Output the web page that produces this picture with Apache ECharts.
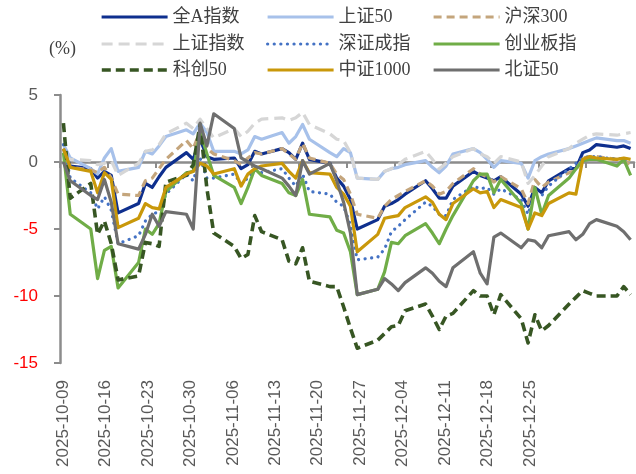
<!DOCTYPE html>
<html>
<head>
<meta charset="utf-8">
<script src="https://cdn.jsdelivr.net/npm/echarts@6/dist/echarts.min.js"></script>
<style>
html,body{margin:0;padding:0;background:#fff;}
#chart{width:636px;height:474px;}
</style>
</head>
<body>
<div id="chart"></div>
<script>
// ---- data ----
const tradeDates = [
'2025-10-09','2025-10-10','2025-10-13','2025-10-14','2025-10-15','2025-10-16','2025-10-17',
'2025-10-20','2025-10-21','2025-10-22','2025-10-23','2025-10-24',
'2025-10-27','2025-10-28','2025-10-29','2025-10-30','2025-10-31',
'2025-11-03','2025-11-04','2025-11-05','2025-11-06','2025-11-07',
'2025-11-10','2025-11-11','2025-11-12','2025-11-13','2025-11-14',
'2025-11-17','2025-11-18','2025-11-19','2025-11-20','2025-11-21',
'2025-11-24','2025-11-25','2025-11-26','2025-11-27','2025-11-28',
'2025-12-01','2025-12-02','2025-12-03','2025-12-04','2025-12-05',
'2025-12-08','2025-12-09','2025-12-10','2025-12-11','2025-12-12',
'2025-12-15','2025-12-16','2025-12-17','2025-12-18','2025-12-19',
'2025-12-22','2025-12-23','2025-12-24','2025-12-25','2025-12-26',
'2025-12-29','2025-12-30','2025-12-31'];

const labelDates = ['2025-10-09','2025-10-16','2025-10-23','2025-10-30','2025-11-06','2025-11-13',
'2025-11-20','2025-11-27','2025-12-04','2025-12-11','2025-12-18','2025-12-25'];

const yTicks = {min:-15, max:5, step:5};

const seriesNames = ['全A指数','上证50','沪深300','上证指数','深证成指','创业板指','科创50','中证1000','北证50'];

const quanA = [1.0,-0.3,-0.5,-1.2,-0.7,-1.0,-3.8, -3.1,-1.6,-1.9,-1.1,-0.4, 0.7,0.2,1.7,0.4,0.2,
 0.3,-0.5,-0.2,0.8,0.6, 1.0,0.7,0.2,1.4,0.2, -0.1,-1.2,-1.8,-2.8,-5.0, -4.3,-3.3,-3.1,-2.8,-2.4,
 -1.4,-2.0,-2.7,-2.7,-1.8, -0.7,-1.0,-1.2,-1.4,-1.1, -2.4,-3.3,-1.9,-2.3,-1.4, -0.5,-0.5,0.7,0.9,1.3, 1.1,1.2,1.0];
const sz50 = [1.3,0.3,-0.5,-0.9,0.3,1.0,-0.7, -0.4,0.8,0.6,1.2,1.9, 2.4,2.1,2.9,2.2,0.8,
 0.8,0.6,0.9,1.9,1.7, 2.2,1.4,1.9,2.8,1.7, 0.7,0.4,1.0,0.7,-1.2, -1.3,-0.7,-0.5,-0.4,-0.2,
 0.1,-0.4,-0.8,-0.3,0.6, 1.0,0.7,0.2,-0.4,0.1, -0.1,-1.2,0.1,0.4,0.6, 1.0,1.2,1.4,1.6,1.8, 1.6,1.6,1.4];
const hs300 = [1.0,-0.4,-0.6,-0.8,-0.4,-1.2,-2.4, -2.5,-1.4,-1.2,-0.5,0.2, 1.6,1.0,2.3,1.0,0.6,
 0.1,-0.2,0.3,0.7,0.6, 1.0,0.6,0.2,1.4,0.3, -0.1,-0.9,-1.3,-2.4,-3.9, -4.2,-3.3,-2.8,-2.5,-2.2,
 -1.4,-1.8,-2.4,-2.2,-1.6, -0.5,-0.9,-1.1,-1.5,-1.1, -2.0,-3.1,-1.3,-1.9,-1.5, -0.8,-0.6,0.3,0.4,0.4, 0.2,0.1,-0.2];
const shIndex = [0.4,0.2,0.1,-0.2,-0.1,0.1,-1.0, -0.1,0.8,0.9,1.3,2.1, 2.9,2.5,3.2,2.5,1.8,
 2.5,1.9,2.3,2.9,3.2, 3.3,3.1,3.3,3.7,2.8, 2.1,1.7,1.6,0.7,-1.2, -1.3,-0.7,-0.5,-0.2,0.2,
 0.8,0.2,-0.5,-0.1,0.4, 1.0,0.6,0.4,-0.1,0.4, 0.0,-1.6,-1.0,-0.3,0.4, 1.0,1.4,1.7,2.0,2.1, 2.0,2.1,2.2];
const szIndex = [1.3,-1.2,-2.3,-3.5,-2.6,-3.6,-6.1, -5.5,-4.4,-3.9,-3.7,-2.4, -0.9,-1.4,0.3,-1.2,-1.2,
 -0.9,-1.6,-1.2,-0.6,-0.8, -0.5,-1.2,-1.8,-0.9,-2.2, -2.4,-3.0,-3.3,-4.7,-7.3, -7.1,-6.5,-5.2,-4.8,-4.3,
 -3.0,-3.3,-3.9,-4.0,-2.8, -1.8,-2.0,-1.9,-2.4,-2.0, -2.8,-3.9,-2.3,-2.5,-1.8, -0.5,-0.1,0.3,0.4,0.4, 0.2,0.3,0.1];
const cyb = [0.7,-3.9,-5.0,-8.7,-6.6,-6.3,-9.4, -7.5,-5.0,-5.4,-4.6,-2.2, -0.8,-0.7,2.3,0.6,-1.0,
 -1.9,-3.1,-1.9,-0.5,-1.0, -1.6,-2.3,-2.5,-1.3,-3.9, -4.1,-5.1,-5.3,-6.7,-9.9, -9.5,-8.2,-6.0,-6.1,-5.5,
 -4.6,-5.3,-6.1,-5.0,-4.0, -1.4,-0.9,-0.9,-2.3,-1.3, -3.1,-5.0,-1.9,-3.9,-2.5, -1.2,-0.5,0.1,0.2,0.2, -0.3,0.2,-1.0];
const kc50 = [2.9,-2.7,-1.6,-5.4,-4.4,-6.1,-8.8, -8.5,-6.0,-6.1,-6.3,-1.5, -1.0,-0.2,2.8,-2.0,-5.3,
 -6.3,-7.2,-6.9,-4.0,-5.2, -5.8,-7.4,-7.6,-6.4,-8.9, -9.3,-9.3,-10.8,-12.4,-13.9, -13.3,-12.8,-12.3,-12.2,-11.1,
 -10.6,-11.5,-12.5,-11.5,-11.3, -9.6,-10.0,-10.0,-11.4,-9.9, -11.7,-13.5,-11.4,-12.6,-12.2, -10.6,-10.1,-9.6,-9.8,-10.0, -10.0,-9.3,-9.9];
const zz1000 = [1.0,-0.4,-0.7,-2.3,-0.8,-1.3,-4.9, -4.2,-3.1,-3.4,-3.5,-1.9, -0.9,-0.7,-0.1,-0.3,-0.9,
 -0.5,-1.8,-0.9,-0.5,-0.3, -0.1,-0.7,-1.2,0.1,-0.8, -0.9,-1.9,-2.4,-3.3,-6.7, -5.4,-4.2,-4.1,-4.0,-3.4,
 -2.6,-3.0,-3.9,-4.3,-3.1, -2.0,-2.3,-2.2,-3.4,-2.8, -3.4,-5.0,-3.8,-4.0,-3.1, -2.3,-2.4,0.2,0.4,0.3, 0.2,0.3,0.2];
const bz50 = [0.0,-1.4,-2.5,-2.8,-1.3,-3.0,-6.1, -6.5,-5.4,-3.9,-4.8,-3.7, -3.9,-5.0,2.9,1.2,3.6,
 2.5,0.3,0.0,-0.3,-0.5, -1.2,-1.8,-2.5,0.1,-0.9, -0.1,-1.4,-3.0,-5.3,-9.9, -9.5,-8.7,-9.1,-9.6,-9.0,
 -7.9,-8.3,-8.9,-9.3,-7.9, -6.7,-8.3,-9.1,-5.6,-5.3, -6.4,-5.8,-5.9,-6.4,-5.5, -5.2,-5.8,-5.4,-4.6,-4.3, -4.8,-5.2,-5.8];

const seriesValues = [quanA, sz50, hs300, shIndex, szIndex, cyb, kc50, zz1000, bz50];

// ---- calendar-day categories (axis spans every calendar day) ----
function calendarDays(first, last) {
  const out = [];
  const d = new Date(first + 'T00:00:00Z');
  const end = new Date(last + 'T00:00:00Z');
  while (d <= end) { out.push(d.toISOString().slice(0, 10)); d.setUTCDate(d.getUTCDate() + 1); }
  return out;
}
const calDays = calendarDays(tradeDates[0], tradeDates[tradeDates.length - 1]);

// ---- styles ----
const styles = [
  {color:'#0E2F8E', width:3.2, type:'solid'},
  {color:'#A7C1EA', width:3.2, type:'solid'},
  {color:'#C4A57C', width:3.2, type:[8,5]},
  {color:'#D6D6D6', width:3.2, type:[11,6]},
  {color:'#4472C4', width:3.2, type:[0.1,6.5], cap:'round'},
  {color:'#70AD47', width:3.2, type:'solid'},
  {color:'#375623', width:3.6, type:[9,5]},
  {color:'#C9980A', width:3.2, type:'solid'},
  {color:'#6F6F6F', width:3.2, type:'solid'}
];

const legendCols = [100, 266, 432];
const legendRows = [8, 35, 61];
const serifCJK = '"Liberation Serif","Noto Sans CJK SC",serif';
const sansFont = '"Liberation Sans",Arial,sans-serif';

const legends = seriesNames.map((n, i) => ({
  data: [n],
  left: legendCols[i % 3],
  top: legendRows[Math.floor(i / 3)],
  padding: 0,
  itemWidth: 66,
  itemHeight: 14,
  itemStyle: {opacity: 0, borderWidth: 0},
  lineStyle: {width: styles[i].width},
  textStyle: {fontSize: 18, color: '#404040', fontFamily: serifCJK}
}));

const series = seriesNames.map((n, i) => ({
  name: n,
  type: 'line',
  xAxisIndex: 0,
  yAxisIndex: 0,
  symbol: 'none',
  animation: false,
  data: tradeDates.map((d, k) => [d, seriesValues[i][k]]),
  lineStyle: Object.assign({join: 'round'}, styles[i]),
  itemStyle: {color: styles[i].color}
}));

const chart = echarts.init(document.getElementById('chart'), null, {renderer: 'canvas'});
chart.setOption({
  animation: false,
  backgroundColor: '#ffffff',
  legend: legends,
  graphic: [{type: 'text', left: 49, top: 40, style: {text: '(%)', font: '18px "Liberation Serif",serif', fill: '#404040'}}],
  grid: [
    {left: 60, right: 2, top: 95, bottom: 111},
    {left: 63, width: 467, top: 95, bottom: 111}
  ],
  xAxis: [
    {
      type: 'category', gridIndex: 0, data: calDays, boundaryGap: true,
      axisLine: {onZero: true, lineStyle: {color: '#8C8C8C', width: 2.5}},
      axisTick: {show: true, interval: 6, length: 6, lineStyle: {color: '#8C8C8C', width: 2}},
      axisLabel: {show: false},
      splitLine: {show: false}
    },
    {
      type: 'category', gridIndex: 1, data: labelDates, boundaryGap: false, position: 'bottom',
      axisLine: {show: false}, axisTick: {show: false}, splitLine: {show: false},
      axisLabel: {interval: 0, rotate: 90, margin: 17, fontSize: 17, color: '#595959', fontFamily: sansFont}
    }
  ],
  yAxis: [
    {
      type: 'value', gridIndex: 0, min: yTicks.min, max: yTicks.max, interval: yTicks.step,
      axisLine: {show: true, onZero: false, lineStyle: {color: '#8C8C8C', width: 2.5}},
      axisTick: {show: true, length: 6, lineStyle: {color: '#8C8C8C', width: 2}},
      splitLine: {show: false},
      axisLabel: {
        margin: 22,
        formatter: v => (v < 0 ? '{n|' + v + '}' : '{p|' + v + '}'),
        rich: {
          n: {color: '#FF0000', fontSize: 17, fontFamily: sansFont},
          p: {color: '#595959', fontSize: 17, fontFamily: sansFont}
        }
      }
    },
    {type: 'value', gridIndex: 1, show: false, min: 0, max: 1}
  ],
  series: series
});
</script>
</body>
</html>
